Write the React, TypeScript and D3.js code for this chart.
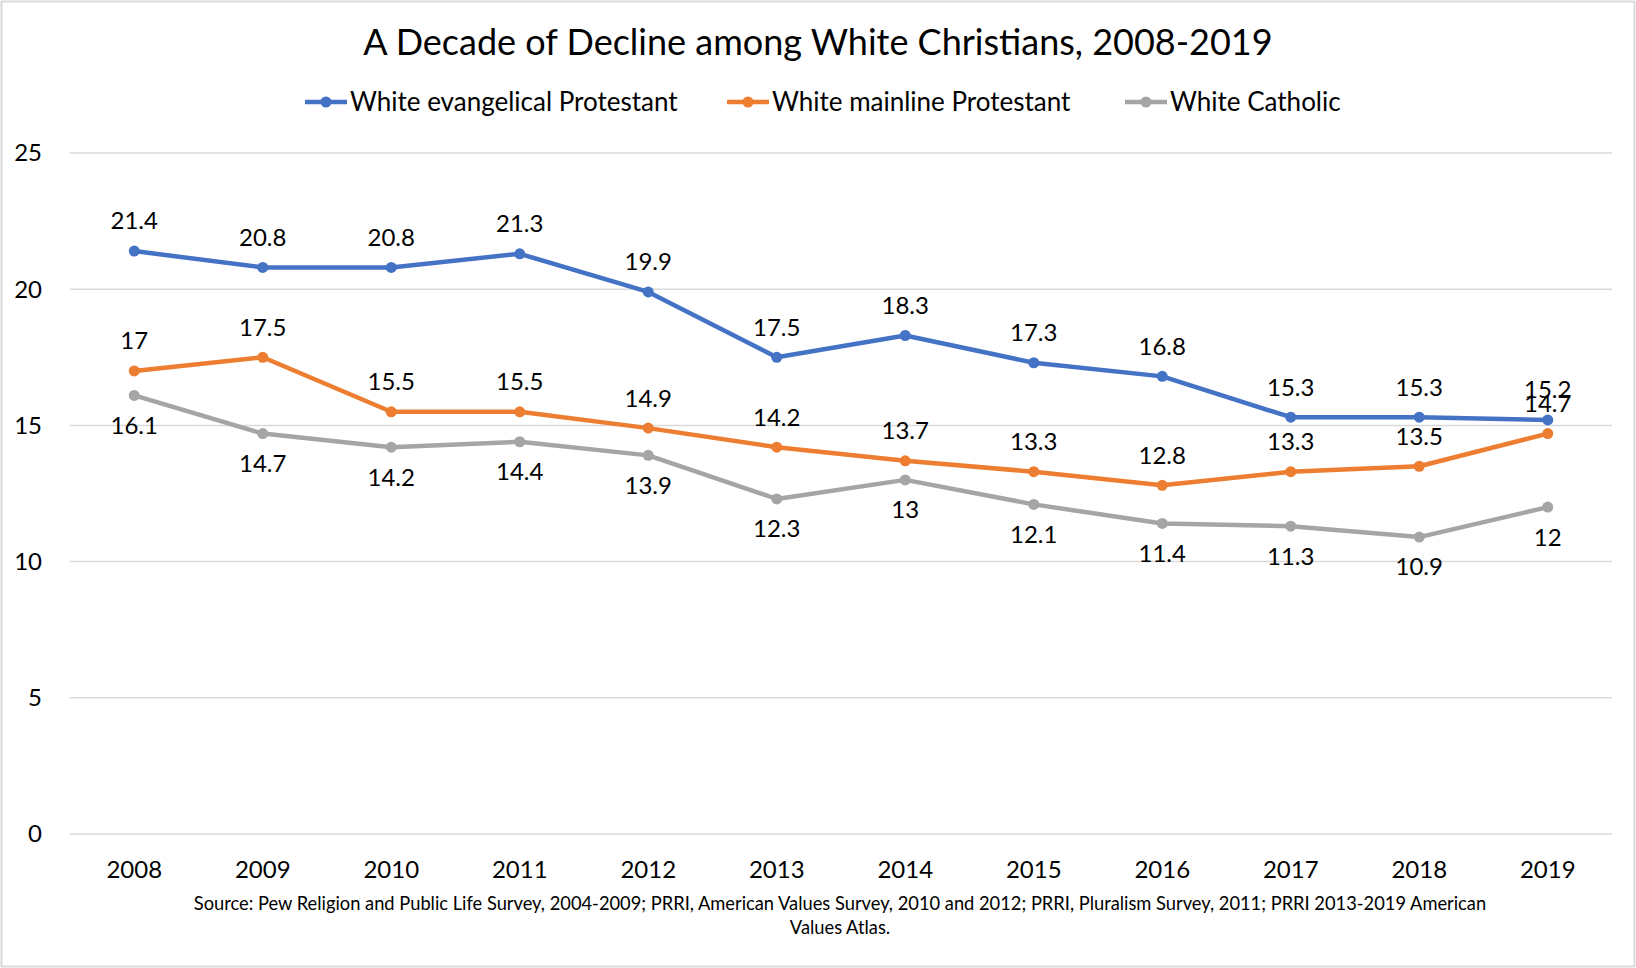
import React, { useRef, useEffect } from 'react';
import * as d3 from 'd3';

const years = ['2008', '2009', '2010', '2011', '2012', '2013', '2014', '2015', '2016', '2017', '2018', '2019'];
const evangelical = [21.4, 20.8, 20.8, 21.3, 19.9, 17.5, 18.3, 17.3, 16.8, 15.3, 15.3, 15.2];
const mainline = [17, 17.5, 15.5, 15.5, 14.9, 14.2, 13.7, 13.3, 12.8, 13.3, 13.5, 14.7];
const catholic = [16.1, 14.7, 14.2, 14.4, 13.9, 12.3, 13, 12.1, 11.4, 11.3, 10.9, 12];
const yTicks = [0, 5, 10, 15, 20, 25];
const seriesNames = ['White evangelical Protestant', 'White mainline Protestant', 'White Catholic'];
const seriesColors = ['#4472C4', '#ED7D31', '#A5A5A5'];
const labelSide = [-1, -1, 1]; // above / below the point

const title = 'A Decade of Decline among White Christians, 2008-2019';
const sourceLines = [
  'Source: Pew Religion and Public Life Survey, 2004-2009; PRRI, American Values Survey, 2010 and 2012; PRRI, Pluralism Survey, 2011; PRRI 2013-2019 American',
  'Values Atlas.',
];

const FONT = 'Lato, "Open Sans", sans-serif';

const App: React.FC = () => {
  const svgRef = useRef<SVGSVGElement>(null);

  useEffect(() => {
    document.body.style.margin = '0';
    if (!svgRef.current) return;

    const width = 1636;
    const height = 968;
    const svg = d3.select(svgRef.current);
    svg.selectAll('*').remove();
    svg.attr('width', width).attr('height', height);

    svg.append('rect')
      .attr('x', 1.5).attr('y', 1.5)
      .attr('width', width - 3).attr('height', height - 3)
      .attr('fill', '#fff')
      .attr('stroke', '#d9d9d9')
      .attr('stroke-width', 2);

    const x = d3.scaleBand<string>().domain(years).range([70, 1612]);
    const y = d3.scaleLinear().domain([0, 25]).range([834, 153]);
    const cx = (d: string) => (x(d) ?? 0) + x.bandwidth() / 2;

    // title
    svg.append('text')
      .attr('x', 818).attr('y', 55)
      .attr('text-anchor', 'middle')
      .style('font-family', FONT)
      .style('font-size', '36px')
      .style('fill', '#000')
      .text(title);

    // gridlines
    svg.append('g')
      .selectAll('line')
      .data(yTicks)
      .enter().append('line')
      .attr('x1', 70).attr('x2', 1612)
      .attr('y1', d => y(d)).attr('y2', d => y(d))
      .attr('stroke', '#d9d9d9')
      .attr('stroke-width', 1.5);

    // y tick labels
    svg.append('g')
      .selectAll('text')
      .data(yTicks)
      .enter().append('text')
      .attr('x', 42)
      .attr('y', d => y(d))
      .attr('dy', '0.35em')
      .attr('text-anchor', 'end')
      .style('font-family', FONT)
      .style('font-size', '24px')
      .style('fill', '#000')
      .text(d => d);

    // x tick labels
    svg.append('g')
      .selectAll('text')
      .data(years)
      .enter().append('text')
      .attr('x', d => cx(d))
      .attr('y', 870)
      .attr('dy', '0.35em')
      .attr('text-anchor', 'middle')
      .style('font-family', FONT)
      .style('font-size', '24px')
      .style('fill', '#000')
      .text(d => d);

    const allSeries = [evangelical, mainline, catholic];
    const line = d3.line<number>()
      .x((_, i) => cx(years[i]))
      .y(d => y(d));

    allSeries.forEach((vals, si) => {
      const g = svg.append('g');
      g.append('path')
        .attr('d', line(vals) ?? '')
        .attr('fill', 'none')
        .attr('stroke', seriesColors[si])
        .attr('stroke-width', 4.5)
        .attr('stroke-linejoin', 'round');
      g.selectAll('circle')
        .data(vals)
        .enter().append('circle')
        .attr('cx', (_, i) => cx(years[i]))
        .attr('cy', d => y(d))
        .attr('r', 5.5)
        .attr('fill', seriesColors[si]);
    });

    // data labels drawn after all lines
    allSeries.forEach((vals, si) => {
      svg.append('g')
        .selectAll('text')
        .data(vals)
        .enter().append('text')
        .attr('x', (_, i) => cx(years[i]))
        .attr('y', d => y(d) + labelSide[si] * 30)
        .attr('dy', '0.35em')
        .attr('text-anchor', 'middle')
        .style('font-family', FONT)
        .style('font-size', '24px')
        .style('fill', '#000')
        .text(d => String(d));
    });

    // legend
    const legendX = [305, 727, 1125];
    const legend = svg.append('g');
    seriesNames.forEach((name, i) => {
      const lx = legendX[i];
      legend.append('line')
        .attr('x1', lx).attr('x2', lx + 42)
        .attr('y1', 102).attr('y2', 102)
        .attr('stroke', seriesColors[i])
        .attr('stroke-width', 4.5);
      legend.append('circle')
        .attr('cx', lx + 21).attr('cy', 102)
        .attr('r', 5.5)
        .attr('fill', seriesColors[i]);
      legend.append('text')
        .attr('x', lx + 45).attr('y', 102)
        .attr('dy', '0.35em')
        .style('font-family', FONT)
        .style('font-size', '26px')
        .style('fill', '#000')
        .text(name);
    });

    // source note
    svg.append('g')
      .selectAll('text')
      .data(sourceLines)
      .enter().append('text')
      .attr('x', 840)
      .attr('y', (_, i) => 904 + i * 24)
      .attr('dy', '0.35em')
      .attr('text-anchor', 'middle')
      .style('font-family', FONT)
      .style('font-size', '18.3px')
      .style('fill', '#000')
      .text(d => d);
  }, []);

  return <svg ref={svgRef}></svg>;
};

export default App;
